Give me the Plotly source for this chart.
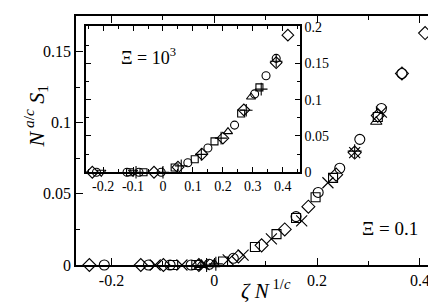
import plotly.graph_objects as go

# ---------------- main panel data (Xi = 0.1) ----------------
main_diamond_x = [-0.243, -0.143, -0.099, -0.030, 0.047, 0.092, 0.137, 0.183, 0.237, 0.273, 0.318, 0.365, 0.410]
main_diamond_y = [0.0, 0.0, 0.0, 0.0, 0.006, 0.0138, 0.025, 0.041, 0.0635, 0.079, 0.105, 0.1346, 0.163]
main_circle_x = [-0.214, -0.128, -0.086, -0.045, -0.010, 0.037, 0.159, 0.202, 0.244, 0.283, 0.325, 0.365]
main_circle_y = [0.0, 0.0, 0.0, 0.0, 0.0005, 0.0047, 0.034, 0.051, 0.068, 0.0883, 0.110, 0.1346]
main_x_x = [-0.115, -0.063, -0.020, 0.027, 0.056, 0.111, 0.170, 0.221, 0.273, 0.325]
main_x_y = [0.0, 0.0, 0.0003, 0.0036, 0.007, 0.0183, 0.031, 0.0578, 0.079, 0.1075]
main_square_x = [-0.080, -0.035, 0.017, 0.079, 0.121, 0.159, 0.197, 0.231, 0.318]
main_square_y = [0.0, 0.0, 0.0025, 0.0127, 0.0217, 0.033, 0.0476, 0.0612, 0.104]
main_tri_x = [-0.025, 0.000, 0.315]
main_tri_y = [0.0, 0.0005, 0.1007]
main_plus_x = [-0.015, 0.003, 0.273]
main_plus_y = [0.0, 0.0008, 0.080]

# ---------------- inset data (Xi = 10^3) ----------------
ins_diamond_x = [-0.236, -0.030, 0.050, 0.130, 0.200, 0.270, 0.378, 0.417]
ins_diamond_y = [0.0, 0.0, 0.007, 0.025, 0.047, 0.086, 0.151, 0.189]
ins_circle_x = [-0.222, -0.120, -0.080, -0.006, 0.083, 0.150, 0.239, 0.306, 0.344, 0.378]
ins_circle_y = [0.0, 0.0, 0.0, 0.0, 0.013, 0.0335, 0.065, 0.108, 0.133, 0.157]
ins_tridown_x = [-0.206, -0.100]
ins_tridown_y = [0.0, 0.0]
ins_square_x = [-0.110, -0.065, 0.039, 0.106, 0.172, 0.261, 0.322]
ins_square_y = [0.0, 0.0, 0.0065, 0.018, 0.0426, 0.081, 0.117]
ins_plus_x = [-0.090, 0.000, 0.061, 0.128, 0.194, 0.278, 0.328, 0.378]
ins_plus_y = [0.0, 0.0, 0.0088, 0.0246, 0.047, 0.0854, 0.1146, 0.153]
ins_tri_x = [0.217, 0.294]
ins_tri_y = [0.056, 0.1037]

main_xticks = [-0.2, 0, 0.2, 0.4]
main_xlabels = ["-0.2", "0", "0.2", "0.4"]
ins_xticks = [-0.2, -0.1, 0, 0.1, 0.2, 0.3, 0.4]
ins_xlabels = ["-0.2", "-0.1", "0", "0.1", "0.2", "0.3", "0.4"]

FONT = "Liberation Serif"

fig = go.Figure()

def add(xs, ys, sym, xa, ya, size=10):
    fig.add_trace(go.Scatter(
        x=xs, y=ys, mode="markers", xaxis=xa, yaxis=ya, showlegend=False,
        marker=dict(symbol=sym, size=size, color="black",
                    line=dict(color="black", width=1.1)),
        cliponaxis=False))

add(main_diamond_x, main_diamond_y, "diamond-open", "x", "y", 10)
add(main_circle_x, main_circle_y, "circle-open", "x", "y", 10)
add(main_x_x, main_x_y, "x-thin-open", "x", "y", 11)
add(main_square_x, main_square_y, "square-open", "x", "y", 9)
add(main_tri_x, main_tri_y, "triangle-up-open", "x", "y", 10)
add(main_plus_x, main_plus_y, "cross-thin-open", "x", "y", 10)

add(ins_diamond_x, ins_diamond_y, "diamond-open", "x2", "y2", 9)
add(ins_circle_x, ins_circle_y, "circle-open", "x2", "y2", 8)
add(ins_tridown_x, ins_tridown_y, "triangle-down-open", "x2", "y2", 8)
add(ins_square_x, ins_square_y, "square-open", "x2", "y2", 7)
add(ins_plus_x, ins_plus_y, "cross-thin-open", "x2", "y2", 9)
add(ins_tri_x, ins_tri_y, "triangle-up-open", "x2", "y2", 8)

axis_common = dict(showgrid=False, zeroline=False, showline=True, linecolor="black",
                   linewidth=1.6, mirror="allticks", ticks="inside", tickcolor="black",
                   tickwidth=1.3)

fig.update_layout(
    width=436, height=303,
    margin=dict(l=68, r=4, t=2, b=46),
    paper_bgcolor="white", plot_bgcolor="white",
    font=dict(family=FONT, color="black", size=16),
    xaxis=dict(range=[-0.269, 0.439], tickvals=main_xticks, ticktext=main_xlabels,
               ticklen=7, tickfont=dict(size=16, family=FONT),
               minor=dict(dtick=0.1, tick0=0, ticklen=4, ticks="inside", tickcolor="black"),
               domain=[0, 1], **axis_common),
    yaxis=dict(range=[0, 0.175], dtick=0.05, tick0=0, ticklen=7, tickfont=dict(size=16, family=FONT),
               minor=dict(dtick=0.025, tick0=0, ticklen=4, ticks="inside", tickcolor="black"),
               domain=[0, 1], **axis_common),
    xaxis2=dict(range=[-0.257, 0.457], tickvals=ins_xticks, ticktext=ins_xlabels,
                ticklen=5, tickfont=dict(size=14, family=FONT),
                minor=dict(dtick=0.05, tick0=0, ticklen=3, ticks="inside", tickcolor="black"),
                domain=[0.0275, 0.615], anchor="y2", **axis_common),
    yaxis2=dict(range=[0, 0.201], dtick=0.05, tick0=0, ticklen=5, tickfont=dict(size=14, family=FONT),
                minor=dict(dtick=0.025, tick0=0, ticklen=3, ticks="inside", tickcolor="black"),
                domain=[0.3725, 0.958], anchor="x2", side="right", **axis_common),
    annotations=[
        dict(text="<i>ζ N</i><sup> 1/<i>c</i></sup>", xref="paper", yref="paper",
             x=0.522, y=-0.098, showarrow=False, font=dict(size=21, family=FONT),
             xanchor="center", yanchor="middle"),
        dict(text="<i>N</i><sup> <i>a</i>/<i>c</i></sup> <i>S</i><sub>1</sub>", xref="paper", yref="paper",
             x=-0.11, y=0.60, showarrow=False, textangle=-90, font=dict(size=22, family=FONT),
             xanchor="center", yanchor="middle"),
        dict(text="Ξ = 10<sup>3</sup>", xref="paper", yref="paper",
             x=0.198, y=0.839, showarrow=False, font=dict(size=18, family=FONT),
             xanchor="center", yanchor="middle"),
        dict(text="Ξ = 0.1", xref="paper", yref="paper",
             x=0.863, y=0.145, showarrow=False, font=dict(size=19, family=FONT),
             xanchor="center", yanchor="middle"),
    ],
)

fig.write_html("out.html")
